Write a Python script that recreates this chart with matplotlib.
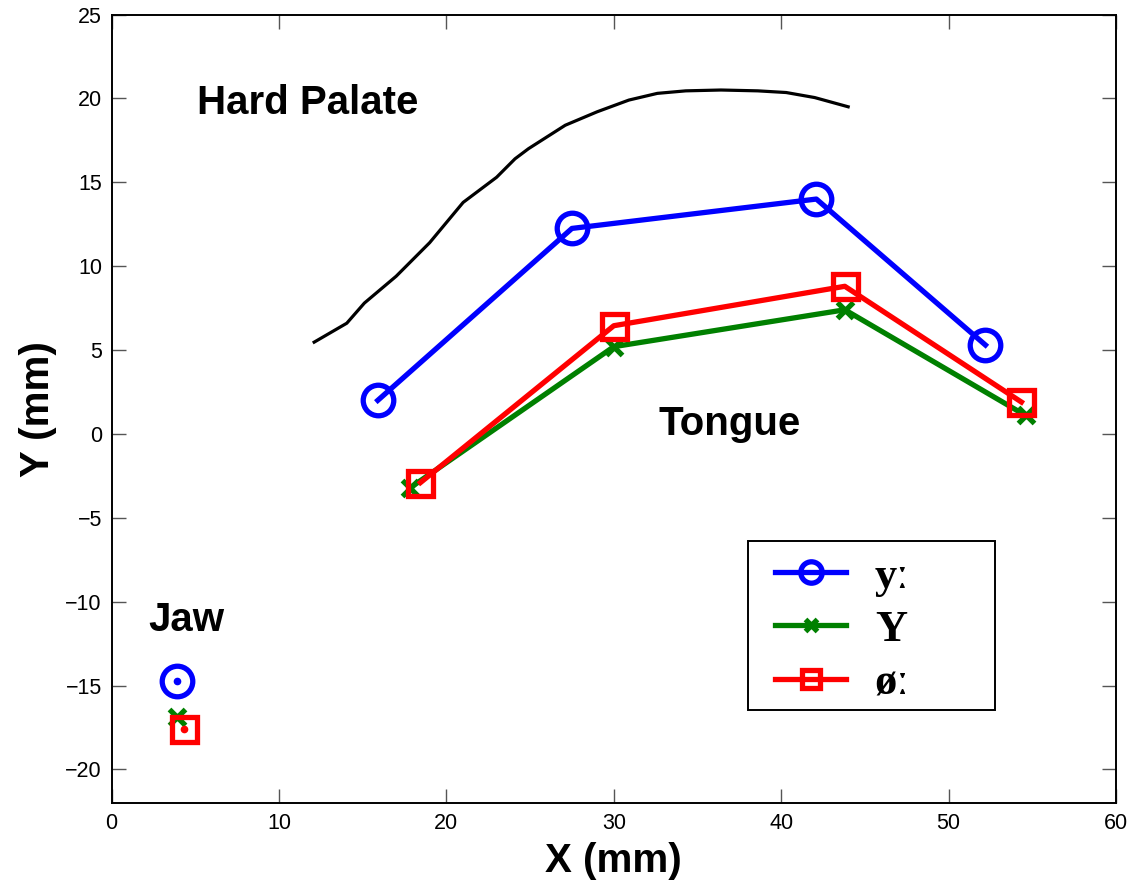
import numpy as np
from matplotlib import pyplot as plt
from matplotlib.patches import Rectangle

# tongue / jaw sensor positions (mm)
tongue_x_y = [15.9, 27.5, 42.1, 52.2]
tongue_y_y = [2.0, 12.25, 14.0, 5.3]
tongue_x_Y = [17.85, 30.0, 43.8, 54.6]
tongue_y_Y = [-3.2, 5.2, 7.4, 1.1]
tongue_x_o = [18.45, 30.0, 43.8, 54.35]
tongue_y_o = [-2.9, 6.45, 8.8, 1.9]

jaw_x = [3.9, 3.9, 4.3]
jaw_y = [-14.75, -16.9, -17.6]

# hard palate contour
palate_x = [12.1, 14.05, 15.1, 17.0, 19.0, 21.0, 23.0, 24.1, 24.9, 27.1, 29.0,
            30.9, 32.6, 34.3, 36.4, 38.6, 40.3, 42.0, 44.0]
palate_y = [5.47, 6.6, 7.8, 9.4, 11.4, 13.8, 15.3, 16.4, 17.0, 18.4, 19.2,
            19.9, 20.3, 20.45, 20.5, 20.45, 20.35, 20.05, 19.5]

labels = ['yː', 'Y', 'øː']
colors = ['#0000ff', '#008000', '#ff0000']

plt.rcParams['font.family'] = ['Liberation Sans', 'DejaVu Sans']

fig = plt.figure(figsize=(11.33, 8.8), dpi=100)
ax = fig.add_axes([0.0985, 0.0875, 0.8865, 0.896])

ax.plot(palate_x, palate_y, color='black', lw=2.3)

lw = 3.8
h1, = ax.plot(tongue_x_y, tongue_y_y, color=colors[0], lw=lw, marker='o', ms=22,
              mfc='none', mew=3.8, label=labels[0])
h2, = ax.plot(tongue_x_Y, tongue_y_Y, color=colors[1], lw=lw, marker='x', ms=12,
              mew=3.8, label=labels[1])
h3, = ax.plot(tongue_x_o, tongue_y_o, color=colors[2], lw=lw, marker='s', ms=18,
              mfc='none', mew=3.8, label=labels[2])

# jaw sensors
ax.plot(jaw_x[0], jaw_y[0], color=colors[0], marker='o', ms=22, mfc='none', mew=3.8)
ax.plot(jaw_x[0], jaw_y[0], color=colors[0], marker='o', ms=4.5)
ax.plot(jaw_x[1], jaw_y[1], color=colors[1], marker='x', ms=12, mew=3.8)
ax.plot(jaw_x[2], jaw_y[2], color=colors[2], marker='s', ms=18, mfc='none', mew=3.8)
ax.plot(jaw_x[2], jaw_y[2], color=colors[2], marker='o', ms=4.5)

ax.text(5.1, 19.7, 'Hard Palate', fontsize=29, fontweight='bold', va='center')
ax.text(32.65, 0.6, 'Tongue', fontsize=29, fontweight='bold', va='center')
ax.text(2.2, -11.1, 'Jaw', fontsize=29, fontweight='bold', va='center')

ax.set_xlim(0, 60)
ax.set_ylim(-22, 25)
ax.set_xticks(np.arange(0, 61, 10))
ax.set_yticks(np.arange(-20, 26, 5))
ax.set_yticklabels([str(v).replace('-', '\u2212') for v in range(-20, 26, 5)])
ax.tick_params(direction='in', length=10, width=1, color='#555555', labelsize=15.5,
               top=True, right=True, pad=7)
for s in ax.spines.values():
    s.set_linewidth(1.4)

ax.set_xlabel('X (mm)', fontsize=29, fontweight='bold', labelpad=6)
ax.set_ylabel('Y (mm)', fontsize=29, fontweight='bold', labelpad=6)

# legend box as drawn in the original (wider than its content)
ax.add_patch(Rectangle((0.634, 0.118), 0.246, 0.214, transform=ax.transAxes,
                       facecolor='white', edgecolor='black', lw=1.4, zorder=4))
leg = ax.legend(handles=[h1, h2, h3], loc='center left', bbox_to_anchor=(0.6607, 0.2195),
                prop={'family': ['Liberation Serif', 'DejaVu Serif'], 'weight': 'bold', 'size': 32},
                frameon=False, handlelength=1.6, handletextpad=0.64, labelspacing=0.3,
                borderpad=0, borderaxespad=0, markerscale=0.7)
leg.set_zorder(5)

fig.savefig('out.png', dpi=100)
